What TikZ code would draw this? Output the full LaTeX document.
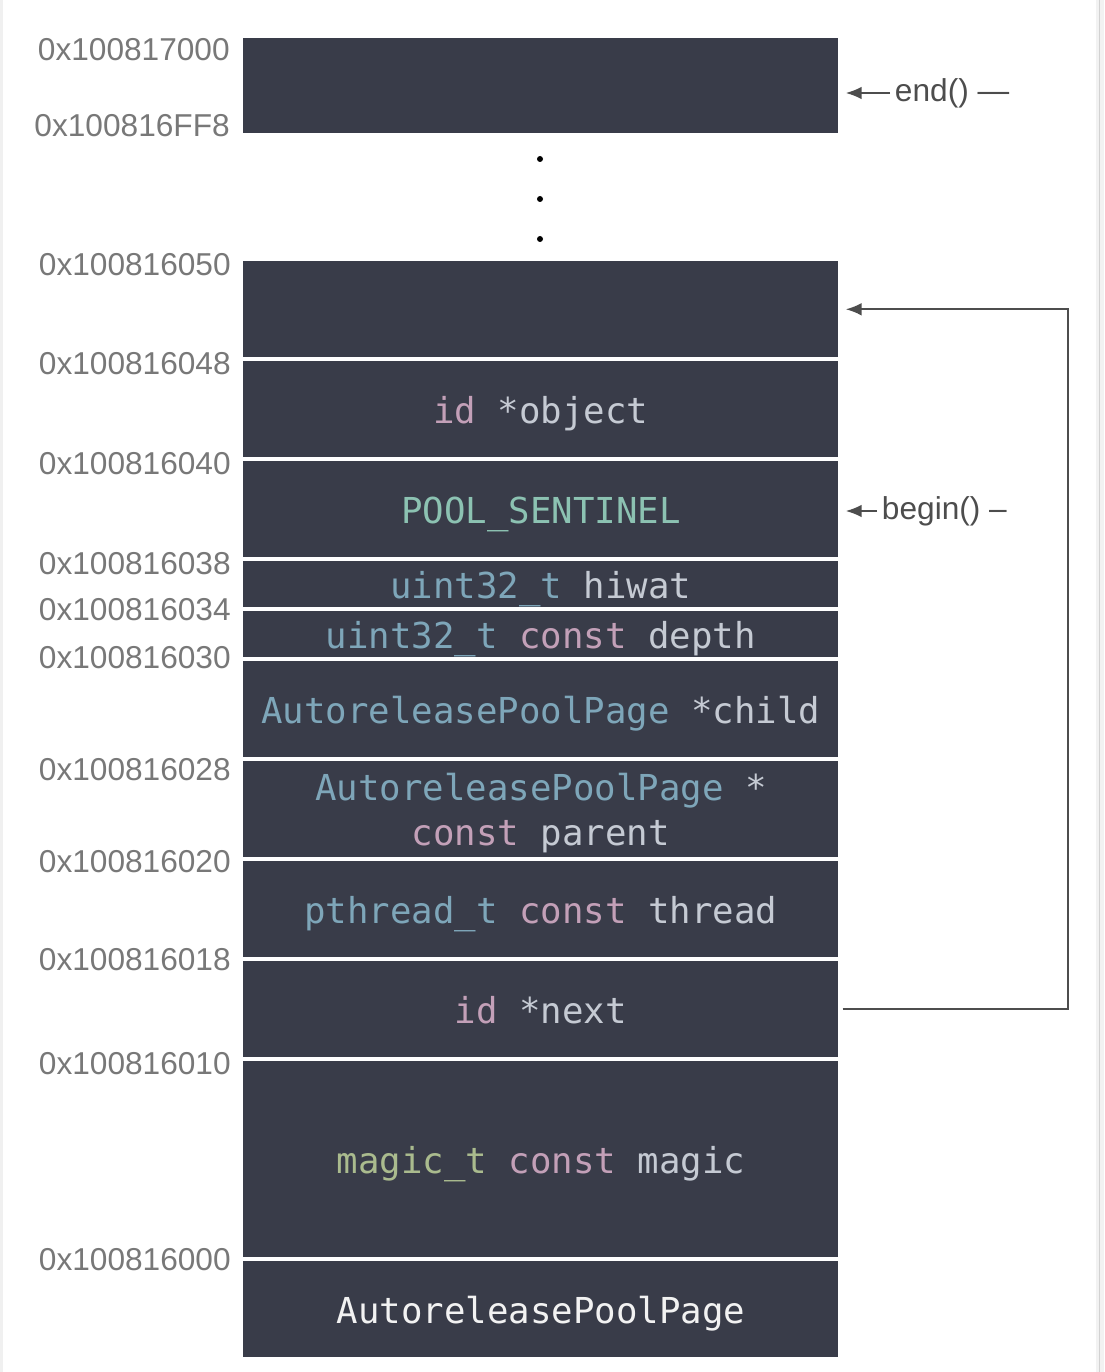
\documentclass[tikz,border=0pt]{standalone}
\usepackage{fontspec}
\setmainfont{Liberation Sans}
\setmonofont{DejaVu Sans Mono}
\usetikzlibrary{arrows.meta}
\definecolor{slate}{HTML}{393C49}
\definecolor{kwpink}{HTML}{C3A0B8}
\definecolor{tyblue}{HTML}{7EA6B9}
\definecolor{sentgreen}{HTML}{8CC2B2}
\definecolor{idgray}{HTML}{C5CAD3}
\definecolor{magicgreen}{HTML}{AABB8E}
\definecolor{addrgray}{HTML}{787878}
\definecolor{ptrgray}{HTML}{4D4D4D}
\newcommand{\kwd}[1]{\textcolor{kwpink}{#1}}
\newcommand{\typ}[1]{\textcolor{tyblue}{#1}}
\newcommand{\idn}[1]{\textcolor{idgray}{#1}}
\tikzset{
  cell/.style={fill=slate,anchor=north west,minimum width=14.875cm,inner sep=0pt,
    font=\fontsize{25.4}{33.5}\selectfont\ttfamily,text height=0.75cm,text depth=0.05cm},
  addr/.style={anchor=east,inner sep=0pt,text=addrgray,font=\fontsize{22.5}{27}\selectfont},
  lbl/.style={anchor=west,text=ptrgray,font=\fontsize{22.5}{27}\selectfont},
  ptr/.style={draw=ptrgray,line width=1.4pt,-{Latex[length=0.4cm,width=0.32cm]},shorten >=0.175cm}
}
\begin{document}
\begin{tikzpicture}[x=0.025cm,y=-0.025cm]
\useasboundingbox (0,0) rectangle (1104,1372);
\fill[gray!12] (0,0) rectangle (3,1372);
\fill[gray!10] (1096,0) rectangle (1104,1372);
\draw[gray!35] (1099,0) -- (1099,1372);
% memory cells
\node[cell,minimum height=2.375cm] (last) at (243,38) {};
\fill (540,159) circle[radius=0.075cm] (540,199) circle[radius=0.075cm] (540,239) circle[radius=0.075cm];
\node[cell,minimum height=2.4cm] (free) at (243,261) {};
\node[cell,minimum height=2.4cm] (obj) at (243,361) {\kwd{id} \idn{*object}};
\node[cell,minimum height=2.4cm] (sentinel) at (243,461) {\textcolor{sentgreen}{POOL\_SENTINEL}};
\node[cell,minimum height=1.15cm] (hiwat) at (243,561) {\typ{uint32\_t} \idn{hiwat}};
\node[cell,minimum height=1.15cm] (depth) at (243,611) {\typ{uint32\_t} \kwd{const} \idn{depth}};
\node[cell,minimum height=2.4cm] (child) at (243,661) {\typ{AutoreleasePoolPage} \idn{*child}};
\node[cell,minimum height=2.4cm,text height=1.8cm,text depth=0pt] (parent) at (243,761)
  {\begin{tabular}[b]{@{}c@{}}\typ{AutoreleasePoolPage} \idn{*}\\[-1.5pt]\kwd{const} \idn{parent}\end{tabular}};
\node[cell,minimum height=2.4cm] (thread) at (243,861) {\typ{pthread\_t} \kwd{const} \idn{thread}};
\node[cell,minimum height=2.4cm] (next) at (243,961) {\kwd{id} \idn{*next}};
\node[cell,minimum height=4.9cm] (magic) at (243,1061) {\textcolor{magicgreen}{magic\_t} \kwd{const} \idn{magic}};
\node[cell,minimum height=2.4cm] (page) at (243,1261) {\textcolor[HTML]{F2F2F2}{AutoreleasePoolPage}};
% addresses
\node[addr] (a17000) at (230,50) {0x100817000};
\node[addr] (a16ff8) at (230,126) {0x100816FF8};
\node[addr] (a16050) at (231,265) {0x100816050};
\node[addr] (a16048) at (231,364) {0x100816048};
\node[addr] (a16040) at (231,464) {0x100816040};
\node[addr] (a16038) at (231,564) {0x100816038};
\node[addr] (a16034) at (231,610) {0x100816034};
\node[addr] (a16030) at (231,658) {0x100816030};
\node[addr] (a16028) at (231,770) {0x100816028};
\node[addr] (a16020) at (231,862) {0x100816020};
\node[addr] (a16018) at (231,960) {0x100816018};
\node[addr] (a16010) at (231,1064) {0x100816010};
\node[addr] (a16000) at (231,1260) {0x100816000};
% pointers
\node[lbl] (endlbl) at (890,93) {end() —};
\draw[ptr] (endlbl.west) -- (last.east |- endlbl.west);
\node[lbl] (beginlbl) at (877,511) {begin() –};
\draw[ptr] (beginlbl.west) -- (sentinel.east |- beginlbl.west);
\coordinate (rail) at (1068,0);
\draw[ptr] ([xshift=0.1cm]next.east) -- (next.east -| rail) -- (rail |- free.east) -- (free.east);
\end{tikzpicture}
\end{document}
